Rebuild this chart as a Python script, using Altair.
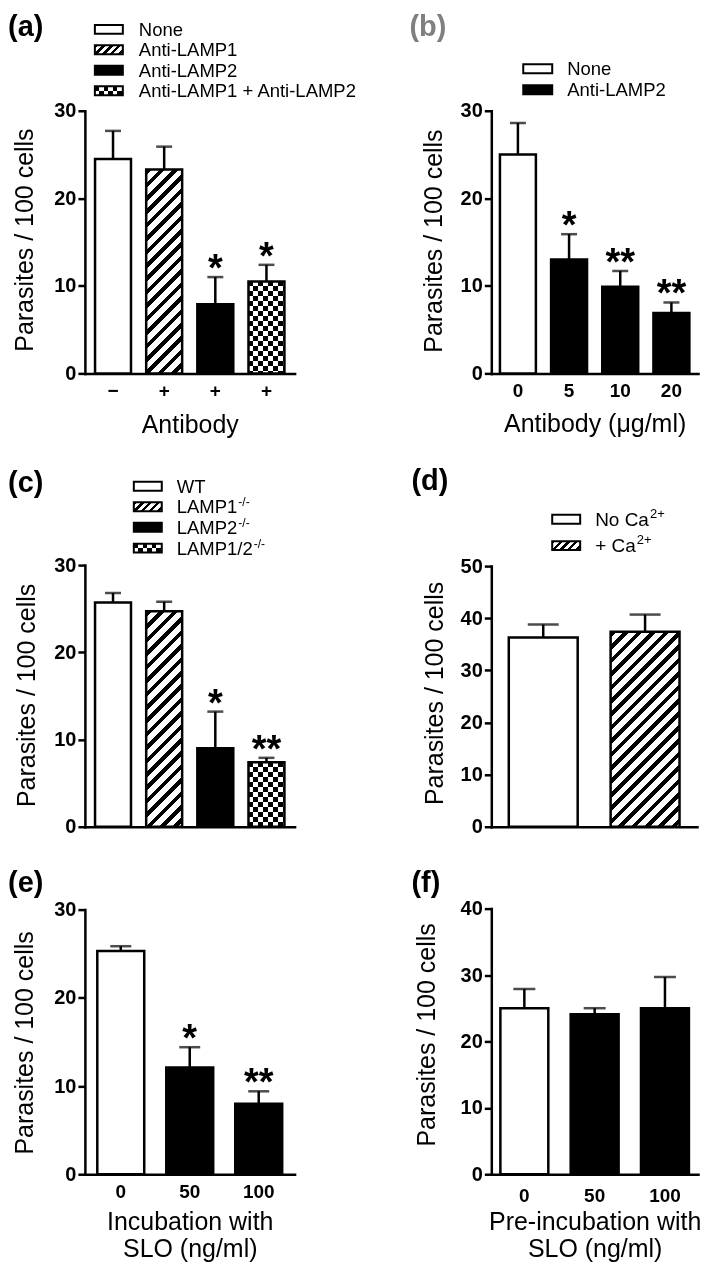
import math
import altair as alt
import pandas as pd

FONT = "Liberation Sans"
LW = 2.5

# ---------------- data ----------------
# (a)
A_CATS = ["None", "Anti-LAMP1", "Anti-LAMP2", "Anti-LAMP1 + Anti-LAMP2"]
A_TICKS = ["\u2212", "+", "+", "+"]
A_MEAN = [24.5, 23.3, 7.9, 10.5]
A_TOP = [27.7, 25.9, 11.0, 12.4]
A_SIG = ["", "", "*", "*"]
A_FILL = ["white", "hatch", "black", "check"]

# (b)
B_CATS = ["0", "5", "10", "20"]
B_MEAN = [25.0, 13.0, 9.9, 6.9]
B_TOP = [28.6, 15.9, 11.7, 8.1]
B_SIG = ["", "*", "**", "**"]
B_FILL = ["white", "black", "black", "black"]
B_KEYS = ["None", "Anti-LAMP2"]
B_KEYFILL = ["white", "black"]

# (c)
C_CATS = ["WT", "LAMP1", "LAMP2", "LAMP1/2"]
C_SUP = ["", "-/-", "-/-", "-/-"]
C_MEAN = [25.7, 24.7, 9.0, 7.4]
C_TOP = [26.8, 25.8, 13.2, 7.9]
C_SIG = ["", "", "*", "**"]
C_FILL = ["white", "hatch", "black", "check"]

# (d)
D_CATS = ["No Ca", "+ Ca"]
D_SUP = ["2+", "2+"]
D_MEAN = [36.3, 37.4]
D_TOP = [38.8, 40.7]
D_SIG = ["", ""]
D_FILL = ["white", "hatch"]

# (e)
E_CATS = ["0", "50", "100"]
E_MEAN = [25.3, 12.1, 8.0]
E_TOP = [25.85, 14.4, 9.4]
E_SIG = ["", "*", "**"]
E_FILL = ["white", "black", "black"]

# (f)
F_CATS = ["0", "50", "100"]
F_MEAN = [25.0, 24.1, 25.0]
F_TOP = [27.9, 25.0, 29.7]
F_SIG = ["", "", ""]
F_FILL = ["white", "black", "black"]

# ---------------- helpers ----------------
ARIAL = {"L": .556, "A": .667, "M": .833, "P": .667, "1": .556, "2": .556, "/": .278,
         "N": .722, "o": .556, " ": .278, "C": .722, "a": .556, "+": .584, "W": .944, "T": .611}


def text_width(s, size):
    return sum(ARIAL.get(ch, .556) for ch in s) * size


def hard_stops(period, frac, c1, c2):
    stops = []
    k = 0
    while k * period < 1:
        s = k * period
        m = min(s + frac * period, 1.0)
        e = min(s + period, 1.0)
        stops += [{"offset": round(s, 5), "color": c1}, {"offset": round(m, 5), "color": c1},
                  {"offset": round(m, 5), "color": c2}, {"offset": round(e, 5), "color": c2}]
        k += 1
    return stops


def hatch_fill(w, h, p):
    c = (w + h) / (w * w + h * h)
    period = math.sqrt(2) * p / (w + h)
    return {"gradient": "linear", "x1": 0, "y1": 0, "x2": round(w * c, 5), "y2": round(h * c, 5),
            "stops": hard_stops(period, 0.42, "black", "white")}


def vstripe_fill(w, cell):
    return {"gradient": "linear", "x1": 0, "y1": 0, "x2": 1, "y2": 0,
            "stops": hard_stops(2 * cell / w, 0.5, "black", "white")}


def hstripe_fill(h, cell):
    return {"gradient": "linear", "x1": 0, "y1": 0, "x2": 0, "y2": 1,
            "stops": hard_stops(2 * cell / h, 0.5, "black", "white")}


ONE = pd.DataFrame({"k": [0]})


def rect_layer(x1, x2, y1, y2, **mk):
    return alt.Chart(ONE).mark_rect(**mk).encode(
        x=alt.value(x1), x2=alt.value(x2), y=alt.value(y1), y2=alt.value(y2))


def text_layer(x, y, txt, size, weight="normal", color="black", baseline="alphabetic"):
    return alt.Chart(ONE).mark_text(text=txt, fontSize=size, fontWeight=weight, color=color,
                                    align="left", baseline=baseline, font=FONT).encode(
        x=alt.value(x), y=alt.value(y))


def swatch(x1, x2, yc, kind, h=9):
    y1, y2 = yc - h / 2, yc + h / 2
    w = x2 - x1
    L = []
    if kind == "hatch":
        L.append(rect_layer(x1, x2, y1, y2, fill=hatch_fill(w, h, 5.5)))
    elif kind == "check":
        L.append(rect_layer(x1, x2, y1, y2, fill=vstripe_fill(w, 4.5)))
        L.append(rect_layer(x1, x2, y1, y2, fill=hstripe_fill(h, 4.5), blend="difference"))
    else:
        L.append(rect_layer(x1, x2, y1, y2, fill=kind))
    L.append(rect_layer(x1, x2, y1, y2, fillOpacity=0, stroke="black", strokeWidth=2))
    return L


def legend(x1, x2, tx, centers, labels, kinds, size, sups=None, sup_size=12, sup_rise=7):
    L = []
    for i, (yc, lab, kind) in enumerate(zip(centers, labels, kinds)):
        L += swatch(x1, x2, yc, kind)
        base = yc + 0.358 * size
        L.append(text_layer(tx, base, lab, size))
        if sups and sups[i]:
            L.append(text_layer(tx + text_width(lab, size) + 1, base - sup_rise, sups[i], sup_size))
    return L


def label_expr(cats, labels):
    parts = [f"datum.value == '{c}' ? '{l}'" for c, l in zip(cats, labels)]
    return " : ".join(parts) + " : ''"


def panel(cats, mean, top, fills, sig, ymax, yvals, W, H, ph, pi, po, bw,
          ytx, yty, xtitle="", labels=True, lexpr=None, xty=58, lpad=8, xlh=27):
    df = pd.DataFrame({"cat": cats, "mean": mean, "top": top, "sig": sig})
    base = alt.Chart(df)
    xa = dict(labelAngle=0, labelFont=FONT, labelFontSize=19, labelFontWeight="bold",
              labelColor="black", labelPadding=lpad, ticks=False, tickSize=0,
              domainColor="black", domainWidth=LW, domainCap="square", grid=False,
              labels=labels, title=xtitle, titleFont=FONT, titleFontSize=25,
              titleFontWeight="normal", titleColor="black", titleY=xty,
              titleBaseline="alphabetic", titleLineHeight=xlh)
    if lexpr:
        xa["labelExpr"] = lexpr
    X = alt.X("cat:N", sort=cats,
              scale=alt.Scale(type="band", paddingInner=pi, paddingOuter=po),
              axis=alt.Axis(**xa))
    ya = alt.Axis(values=yvals, format="d", title="Parasites / 100 cells", titleX=ytx, titleY=yty,
                  titleAngle=270, titleAlign="center", titleBaseline="alphabetic",
                  titleFont=FONT, titleFontSize=25, titleFontWeight="normal", titleColor="black",
                  labelFont=FONT, labelFontSize=20, labelFontWeight="bold", labelColor="black",
                  labelPadding=2, tickSize=7, tickWidth=LW, tickColor="black",
                  domainColor="black", domainWidth=LW, domainCap="square", grid=False)
    ys = alt.Scale(domain=[0, ymax], range=[H, H - ph], nice=False, zero=True)
    Ym = alt.Y("mean:Q", scale=ys, axis=ya)
    Yt = alt.Y("top:Q", scale=ys, axis=ya)
    layers = []
    for c, m, f in zip(cats, mean, fills):
        h = m / ymax * ph
        sub = base.transform_filter(alt.datum.cat == c)
        if f == "hatch":
            layers.append(sub.mark_bar(size=bw, fill=hatch_fill(bw, h, 9.5)).encode(x=X, y=Ym))
        elif f == "check":
            layers.append(sub.mark_bar(size=bw, fill=vstripe_fill(bw, 5)).encode(x=X, y=Ym))
            layers.append(sub.mark_bar(size=bw, fill=hstripe_fill(h, 5), blend="difference").encode(x=X, y=Ym))
        else:
            layers.append(sub.mark_bar(size=bw, fill=f).encode(x=X, y=Ym))
    layers.append(base.mark_bar(size=bw, fillOpacity=0, stroke="black", strokeWidth=LW).encode(x=X, y=Ym))
    layers.append(base.mark_rule(color="black", strokeWidth=LW).encode(x=X, y=Ym, y2="top:Q"))
    layers.append(base.mark_tick(orient="horizontal", size=round(0.45 * bw), thickness=LW,
                                 color="black").encode(x=X, y=Yt))
    if any(sig):
        layers.append(base.transform_filter(alt.datum.sig != "").mark_text(
            fontSize=38, fontWeight="bold", font=FONT, dy=4, baseline="alphabetic",
            align="center", color="black").encode(x=X, y=Yt, text="sig:N"))
    return layers


# ---------------- panels ----------------
# left column plot origin x = 85, right column x = 492 (page coords)
pa = panel(A_CATS, A_MEAN, A_TOP, A_FILL, A_SIG, 30, [0, 10, 20, 30], 210, 365, 263, 0.3, 0.2, 36,
           -52, 231, xtitle="Antibody", lexpr=label_expr(A_CATS, A_TICKS), xty=59)
pa += legend(10, 38, 54, [20.5, 41, 61.5, 82], A_CATS, A_FILL, 18.5)
pa.append(text_layer(-77, 4, "(a)", 29, "bold", baseline="top"))
chart_a = alt.layer(*pa).properties(width=210, height=365)

pb = panel(B_CATS, B_MEAN, B_TOP, B_FILL, B_SIG, 30, [0, 10, 20, 30], 207, 365, 263, 0.3, 0.17, 36,
           -50, 232, xtitle="Antibody (\u03bcg/ml)", xty=58)
pb += legend(32, 61, 76, [60, 81], B_KEYS, B_KEYFILL, 18.5)
pb.append(text_layer(-82, 4, "(b)", 29, "bold", "#808080", baseline="top"))
chart_b = alt.layer(*pb).properties(width=207, height=365)

pc = panel(C_CATS, C_MEAN, C_TOP, C_FILL, C_SIG, 30, [0, 10, 20, 30], 210, 454, 262, 0.3, 0.2, 36,
           -50, 322, xtitle="", labels=False)
pc += legend(49, 77, 92, [113, 133.5, 154, 175], C_CATS, C_FILL, 18.5, sups=C_SUP, sup_size=12, sup_rise=7)
pc.append(text_layer(-77, 119, "(c)", 29, "bold"))
chart_c = alt.layer(*pc).properties(width=210, height=454)

pd_ = panel(D_CATS, D_MEAN, D_TOP, D_FILL, D_SIG, 50, [0, 10, 20, 30, 40, 50], 206, 454, 261, 0.32, 0.17, 69,
            -49, 320, xtitle="", labels=False)
pd_ += legend(61, 89, 104, [146, 172.5], D_CATS, D_FILL, 19, sups=D_SUP, sup_size=13, sup_rise=8)
pd_.append(text_layer(-80, 117, "(d)", 29, "bold"))
chart_d = alt.layer(*pd_).properties(width=206, height=454)

pe = panel(E_CATS, E_MEAN, E_TOP, E_FILL, E_SIG, 30, [0, 10, 20, 30], 210, 348, 265, 0.3, 0.17, 47,
           -52, 216, xtitle=["Incubation with", "SLO (ng/ml)"], xty=55, xlh=27)
pe.append(text_layer(-77, 65, "(e)", 29, "bold"))
chart_e = alt.layer(*pe).properties(width=210, height=348)

pf = panel(F_CATS, F_MEAN, F_TOP, F_FILL, F_SIG, 40, [0, 10, 20, 30, 40], 207, 348, 266, 0.3, 0.12, 48,
           -57, 208, xtitle=["Pre-incubation with", "SLO (ng/ml)"], xty=55, lpad=12, xlh=27)
pf.append(text_layer(-80, 65, "(f)", 29, "bold"))
chart_f = alt.layer(*pf).properties(width=207, height=348)

chart = alt.concat(
    chart_a, chart_b, chart_c, chart_d, chart_e, chart_f,
    columns=2, spacing={"row": 0, "column": 197}, bounds="flush", align="each"
).properties(padding=0, background="white").configure(font=FONT).configure_view(strokeWidth=0)

chart.save("out.html", embed_options={"renderer": "svg", "actions": False})
